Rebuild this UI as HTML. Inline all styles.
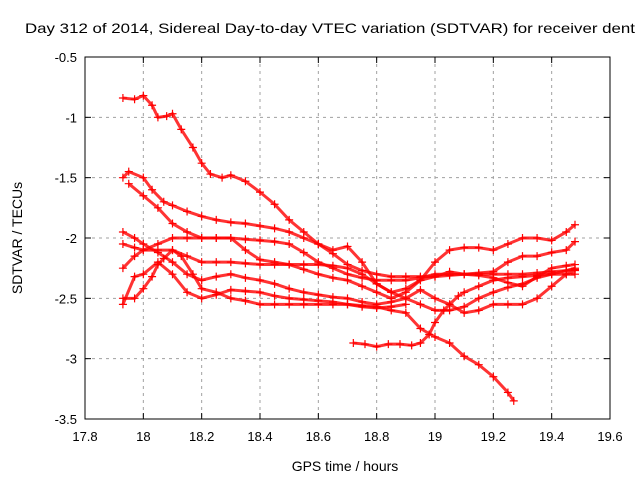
<!DOCTYPE html>
<html><head><meta charset="utf-8"><style>
body{margin:0;background:#fff}
svg{display:block;font-family:"Liberation Sans",sans-serif}
</style></head><body>
<svg id="chart" width="640" height="480">
<text x="25" y="33" font-size="14" textLength="610" lengthAdjust="spacingAndGlyphs">Day 312 of 2014, Sidereal Day-to-day VTEC variation (SDTVAR) for receiver dent</text>
<text x="345" y="471" font-size="14" text-anchor="middle">GPS time / hours</text>
<text transform="translate(22,238) rotate(-90)" font-size="14" text-anchor="middle">SDTVAR / TECUs</text>
<g id="grid"></g><g id="ticks"></g><g id="marks"></g>
<rect x="85" y="57" width="525" height="362" fill="none" stroke="#000"/>
</svg>
<script>
const xTicks=[17.8,18,18.2,18.4,18.6,18.8,19,19.2,19.4,19.6];
const xTickLabels=["17.8","18","18.2","18.4","18.6","18.8","19","19.2","19.4","19.6"];
const yTicks=[-0.5,-1,-1.5,-2,-2.5,-3,-3.5];
const yTickLabels=["-0.5","-1","-1.5","-2","-2.5","-3","-3.5"];
const seriesA=[[17.93,-0.84],[17.97,-0.85],[18.0,-0.82],[18.03,-0.9],[18.05,-1.0],[18.08,-0.99],[18.1,-0.97],[18.13,-1.1],[18.17,-1.25],[18.2,-1.38],[18.23,-1.47],[18.27,-1.5],[18.3,-1.48],[18.35,-1.53],[18.4,-1.62],[18.45,-1.72],[18.5,-1.85],[18.55,-1.95],[18.6,-2.05],[18.65,-2.1],[18.7,-2.07],[18.75,-2.2],[18.8,-2.38],[18.85,-2.45],[18.9,-2.42],[18.95,-2.35],[19.0,-2.2],[19.05,-2.1],[19.1,-2.08],[19.15,-2.08],[19.2,-2.1],[19.25,-2.05],[19.3,-2.0],[19.35,-2.0],[19.4,-2.02],[19.45,-1.95],[19.48,-1.89]];
const seriesB=[[17.93,-1.5],[17.95,-1.45],[18.0,-1.5],[18.03,-1.6],[18.07,-1.7],[18.1,-1.73],[18.15,-1.78],[18.2,-1.82],[18.25,-1.85],[18.3,-1.87],[18.35,-1.88],[18.4,-1.9],[18.45,-1.92],[18.5,-1.95],[18.55,-2.0],[18.6,-2.05],[18.65,-2.13],[18.7,-2.22],[18.75,-2.27],[18.8,-2.3],[18.85,-2.32],[18.9,-2.32],[18.95,-2.32],[19.0,-2.32],[19.05,-2.31],[19.1,-2.3],[19.15,-2.29],[19.2,-2.28],[19.25,-2.2],[19.3,-2.15],[19.35,-2.15],[19.4,-2.12],[19.45,-2.1],[19.48,-2.03]];
const seriesC=[[17.95,-1.55],[18.0,-1.65],[18.05,-1.75],[18.1,-1.88],[18.15,-1.95],[18.2,-2.0],[18.25,-2.0],[18.3,-2.0],[18.35,-2.01],[18.4,-2.02],[18.45,-2.03],[18.5,-2.05],[18.55,-2.12],[18.6,-2.2],[18.65,-2.25],[18.7,-2.3],[18.75,-2.33],[18.8,-2.35],[18.85,-2.35],[18.9,-2.35],[18.95,-2.33],[19.0,-2.3],[19.05,-2.3],[19.1,-2.3],[19.15,-2.31],[19.2,-2.33],[19.25,-2.37],[19.3,-2.4],[19.35,-2.32],[19.4,-2.25],[19.45,-2.23],[19.48,-2.22]];
const seriesD=[[17.93,-1.95],[17.97,-2.0],[18.0,-2.05],[18.05,-2.12],[18.1,-2.2],[18.15,-2.3],[18.2,-2.35],[18.25,-2.32],[18.3,-2.3],[18.35,-2.33],[18.4,-2.35],[18.45,-2.38],[18.5,-2.42],[18.55,-2.45],[18.6,-2.47],[18.65,-2.49],[18.7,-2.5],[18.75,-2.53],[18.8,-2.55],[18.85,-2.53],[18.9,-2.5],[18.95,-2.43],[19.0,-2.5],[19.05,-2.55],[19.1,-2.62],[19.15,-2.6],[19.2,-2.55],[19.25,-2.55],[19.3,-2.55],[19.35,-2.5],[19.4,-2.4],[19.45,-2.3],[19.48,-2.27]];
const seriesE=[[17.93,-2.25],[17.97,-2.15],[18.0,-2.1],[18.05,-2.05],[18.1,-2.0],[18.15,-2.0],[18.2,-2.0],[18.25,-2.0],[18.3,-2.0],[18.35,-2.1],[18.4,-2.18],[18.45,-2.2],[18.5,-2.22],[18.55,-2.22],[18.6,-2.22],[18.65,-2.23],[18.7,-2.25],[18.75,-2.3],[18.8,-2.38],[18.85,-2.45],[18.9,-2.5],[18.95,-2.55],[19.0,-2.6],[19.05,-2.6],[19.1,-2.57],[19.15,-2.5],[19.2,-2.45],[19.25,-2.41],[19.3,-2.38],[19.35,-2.33],[19.4,-2.3],[19.45,-2.27],[19.48,-2.25]];
const seriesF=[[17.93,-2.05],[17.97,-2.08],[18.0,-2.1],[18.05,-2.1],[18.1,-2.1],[18.15,-2.15],[18.2,-2.2],[18.25,-2.2],[18.3,-2.2],[18.35,-2.21],[18.4,-2.22],[18.45,-2.22],[18.5,-2.22],[18.55,-2.26],[18.6,-2.3],[18.65,-2.33],[18.7,-2.35],[18.75,-2.4],[18.8,-2.45],[18.85,-2.5],[18.9,-2.45],[18.95,-2.35],[19.0,-2.32],[19.05,-2.28],[19.1,-2.3],[19.15,-2.3],[19.2,-2.3],[19.25,-2.3],[19.3,-2.3],[19.35,-2.29],[19.4,-2.28],[19.45,-2.27],[19.48,-2.26]];
const seriesG=[[17.93,-2.5],[17.97,-2.5],[18.0,-2.42],[18.03,-2.32],[18.05,-2.22],[18.07,-2.17],[18.1,-2.1],[18.13,-2.15],[18.17,-2.3],[18.2,-2.42],[18.25,-2.45],[18.3,-2.5],[18.35,-2.52],[18.4,-2.55],[18.45,-2.55],[18.5,-2.55],[18.55,-2.55],[18.6,-2.55],[18.65,-2.55],[18.7,-2.55],[18.75,-2.56],[18.8,-2.57],[18.85,-2.6],[18.9,-2.62],[18.95,-2.75],[19.0,-2.82],[19.05,-2.87],[19.1,-2.98],[19.15,-3.05],[19.2,-3.15],[19.25,-3.28],[19.27,-3.35]];
const seriesH=[[17.93,-2.55],[17.97,-2.32],[18.0,-2.3],[18.05,-2.2],[18.1,-2.3],[18.15,-2.45],[18.2,-2.5],[18.25,-2.47],[18.3,-2.43],[18.35,-2.44],[18.4,-2.45],[18.45,-2.48],[18.5,-2.5],[18.55,-2.51],[18.6,-2.52],[18.65,-2.53],[18.7,-2.55],[18.75,-2.57],[18.8,-2.58],[18.85,-2.57],[18.9,-2.55]];
const seriesI=[[18.72,-2.87],[18.76,-2.88],[18.8,-2.9],[18.84,-2.88],[18.88,-2.88],[18.92,-2.89],[18.95,-2.87],[18.98,-2.8],[19.0,-2.7],[19.03,-2.6],[19.05,-2.55],[19.08,-2.48],[19.1,-2.45],[19.15,-2.4],[19.2,-2.35],[19.25,-2.33],[19.3,-2.32],[19.35,-2.31],[19.4,-2.3],[19.45,-2.3],[19.48,-2.3]];
const allSeries=[seriesA,seriesB,seriesC,seriesD,seriesE,seriesF,seriesG,seriesH,seriesI];

const NS='http://www.w3.org/2000/svg';
const X0=85,X1=610,Y0=57,Y1=419;
function xs(v){return X0+(v-17.8)/(19.6-17.8)*(X1-X0);}
function ys(v){return Y0+(-0.5-v)/3*(Y1-Y0);}
function mk(tag,attrs,parent){const e=document.createElementNS(NS,tag);for(const k in attrs)e.setAttribute(k,attrs[k]);parent.appendChild(e);return e;}
const grid=document.getElementById('grid'),ticks=document.getElementById('ticks'),marks=document.getElementById('marks');
xTicks.forEach((t,i)=>{
  const x=xs(t);
  if(i>0&&i<xTicks.length-1){const g=mk('line',{x1:x,x2:x,y1:Y0,y2:Y1,stroke:'#a0a0a0','stroke-dasharray':'3,4'},grid);
  
  }
  mk('line',{x1:x,x2:x,y1:Y1,y2:Y1-6,stroke:'#000'},ticks);
  mk('line',{x1:x,x2:x,y1:Y0,y2:Y0+6,stroke:'#000'},ticks);
  const l=mk('text',{x:x,y:Y1+22,'font-size':13,'text-anchor':'middle'},ticks);l.textContent=xTickLabels[i];
  
  
});
yTicks.forEach((t,i)=>{
  const y=ys(t);
  if(i>0&&i<yTicks.length-1){const g=mk('line',{x1:X0,x2:X1,y1:y,y2:y,stroke:'#a0a0a0','stroke-dasharray':'3,4'},grid);
  
  }
  mk('line',{x1:X0,x2:X0+6,y1:y,y2:y,stroke:'#000'},ticks);
  mk('line',{x1:X1,x2:X1-6,y1:y,y2:y,stroke:'#000'},ticks);
  const l=mk('text',{x:X0-8,y:y+5,'font-size':13,'text-anchor':'end'},ticks);l.textContent=yTickLabels[i];
  
  
});
allSeries.forEach((s,si)=>{
  const g=mk('g',{},marks);
  
  
  mk('polyline',{points:s.map(p=>xs(p[0])+','+ys(p[1])).join(' '),fill:'none',stroke:'#f00','stroke-width':3,'stroke-opacity':0.8},g);
  s.forEach(p=>{
    const x=xs(p[0]),y=ys(p[1]);
    const m=mk('path',{d:`M${x-4},${y}H${x+4}M${x},${y-4}V${y+4}`,stroke:'#f00','stroke-width':1.2},g);
    
    
  });
});
</script>
</body></html>
